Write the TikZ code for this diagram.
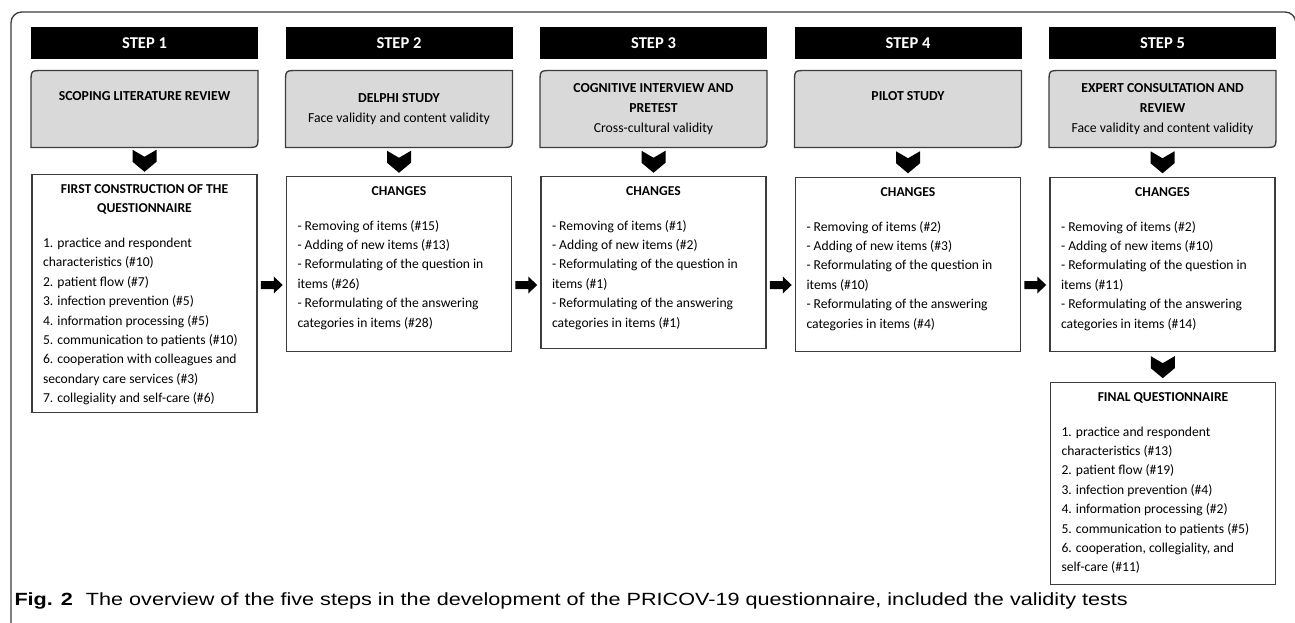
\documentclass[tikz,border=0pt]{standalone}
\usepackage{fontspec}
\usepackage{graphicx}
\setmainfont{Carlito}
\newfontfamily\captionfont{Liberation Sans}
\usetikzlibrary{calc,backgrounds}

\definecolor{stagegray}{RGB}{217,217,217}
\definecolor{linegray}{RGB}{60,60,60}

\tikzset{every picture/.style={line width=0.75pt}}
\tikzset{
  steplabel/.style={fill=black, text=white, inner sep=0pt, minimum width=170.25pt, minimum height=24pt, font=\bfseries\fontsize{12.4}{14}\selectfont},
  stage/.style={inner sep=0pt, minimum width=169.5pt, minimum height=57pt, align=center, font=\fontsize{10.3}{15}\selectfont},
  stageshape/.style={draw=linegray, fill=stagegray, line width=1pt},
  changebox/.style={draw=linegray, line width=1pt, anchor=north, inner xsep=8.25pt, inner ysep=0pt, font=\fontsize{10.2}{14.55}\selectfont},
  chevron/.pic={\fill (-12,11) -- (0,4) -- (12,11) -- (12,-1) -- (0,-11) -- (-12,-1) -- cycle;},
  rarrow/.pic={\fill (-11,-4) -- (2,-4) -- (2,-8.5) -- (11,0) -- (2,8.5) -- (2,4) -- (-11,4) -- cycle;},
}

% bold centred heading on top of a box, then the list
\newcommand{\boxhead}[1]{{\centering\bfseries\rule{0pt}{14pt}#1\par}\vspace{11.5pt}}
% grey stage box: round top left and bottom right only
\newcommand{\stageoutline}[1]{\draw[stageshape] (#1.south west) -- ($(#1.north west)+(0,12)$) .. controls (#1.north west) .. ($(#1.north west)+(12,0)$) -- (#1.north east) -- ($(#1.south east)+(0,-12)$) .. controls (#1.south east) .. ($(#1.south east)+(-12,0)$) -- cycle;}

\begin{document}
\begin{tikzpicture}[x=0.75pt,y=0.75pt,yscale=-1,xscale=1]
\useasboundingbox (0,0) rectangle (1295,622);

%Frame
\draw[linegray, line width=1pt, rounded corners=8pt] (11,630) -- (11,12) -- (1295.8,12) -- (1295.8,630);

%Step headers
\node[steplabel] (step1) at (144.5,43) {STEP 1};
\node[steplabel] (step2) at (399,43) {STEP 2};
\node[steplabel] (step3) at (653.5,43) {STEP 3};
\node[steplabel] (step4) at (908,43) {STEP 4};
\node[steplabel] (step5) at (1162.5,43) {STEP 5};

%Stages
\node[stage] (stage1) at (144.5,109) {\textbf{SCOPING LITERATURE REVIEW}\\ \strut};
\node[stage] (stage2) at (399,109) {\textbf{DELPHI STUDY}\\Face validity and content validity};
\node[stage] (stage3) at (653.5,109) {\textbf{COGNITIVE INTERVIEW AND}\\\textbf{PRETEST}\\Cross-cultural validity};
\node[stage] (stage4) at (908,109) {\textbf{PILOT STUDY}\\ \strut};
\node[stage] (stage5) at (1162.5,109) {\textbf{EXPERT CONSULTATION AND}\\\textbf{REVIEW}\\Face validity and content validity};
\begin{scope}[on background layer]
\stageoutline{stage1}
\stageoutline{stage2}
\stageoutline{stage3}
\stageoutline{stage4}
\stageoutline{stage5}
\end{scope}

%Boxes
\node[changebox] (box1) at (144.5,174) {\begin{minipage}[t][178.5pt][t]{152.25pt}
\boxhead{FIRST CONSTRUCTION OF THE\\QUESTIONNAIRE}
1. practice and respondent\\
characteristics (\#10)\\
2. patient flow (\#7)\\
3. infection prevention (\#5)\\
4. information processing (\#5)\\
5. communication to patients (\#10)\\
6. cooperation with colleagues and\\
secondary care services (\#3)\\
7. collegiality and self-care (\#6)
\end{minipage}};
\node[changebox] (box2) at (399,176) {\begin{minipage}[t][131.25pt][t]{152.25pt}
\boxhead{CHANGES}
- Removing of items (\#15)\\
- Adding of new items (\#13)\\
- Reformulating of the question in\\
items (\#26)\\
- Reformulating of the answering\\
categories in items (\#28)
\end{minipage}};
\node[changebox] (box3) at (653.5,176) {\begin{minipage}[t][129pt][t]{152.25pt}
\boxhead{CHANGES}
- Removing of items (\#1)\\
- Adding of new items (\#2)\\
- Reformulating of the question in\\
items (\#1)\\
- Reformulating of the answering\\
categories in items (\#1)
\end{minipage}};
\node[changebox] (box4) at (908,177) {\begin{minipage}[t][130.5pt][t]{152.25pt}
\boxhead{CHANGES}
- Removing of items (\#2)\\
- Adding of new items (\#3)\\
- Reformulating of the question in\\
items (\#10)\\
- Reformulating of the answering\\
categories in items (\#4)
\end{minipage}};
\node[changebox] (box5) at (1162.5,177) {\begin{minipage}[t][130.5pt][t]{152.25pt}
\boxhead{CHANGES}
- Removing of items (\#2)\\
- Adding of new items (\#10)\\
- Reformulating of the question in\\
items (\#11)\\
- Reformulating of the answering\\
categories in items (\#14)
\end{minipage}};
\node[changebox] (final) at (1163,382) {\begin{minipage}[t][151.5pt][t]{152.25pt}
\boxhead{FINAL QUESTIONNAIRE}
1. practice and respondent\\
characteristics (\#13)\\
2. patient flow (\#19)\\
3. infection prevention (\#4)\\
4. information processing (\#2)\\
5. communication to patients (\#5)\\
6. cooperation, collegiality, and\\
self-care (\#11)
\end{minipage}};

%Chevrons down
\pic at ($(stage1.south)!0.5!(box1.north)$) {chevron};
\pic at ($(stage2.south)!0.5!(box2.north)$) {chevron};
\pic at ($(stage3.south)!0.5!(box3.north)$) {chevron};
\pic at ($(stage4.south)!0.5!(box4.north)$) {chevron};
\pic at ($(stage5.south)!0.5!(box5.north)$) {chevron};
\pic at ($(box5.south)!0.5!(final.north)$) {chevron};

%Arrows right
\coordinate (flow) at (0,285);
\pic at ($(box1.east |- flow)!0.5!(box2.west |- flow)$) {rarrow};
\pic at ($(box2.east |- flow)!0.5!(box3.west |- flow)$) {rarrow};
\pic at ($(box3.east |- flow)!0.5!(box4.west |- flow)$) {rarrow};
\pic at ($(box4.east |- flow)!0.5!(box5.west |- flow)$) {rarrow};

%Caption
\node[anchor=base west, inner sep=0pt] (caption) at (14,605) {\resizebox{835pt}{9.6pt}{\captionfont\textbf{Fig. 2}\hspace{0.6em}The overview of the five steps in the development of the PRICOV-19 questionnaire, included the validity tests}};

\end{tikzpicture}
\end{document}
